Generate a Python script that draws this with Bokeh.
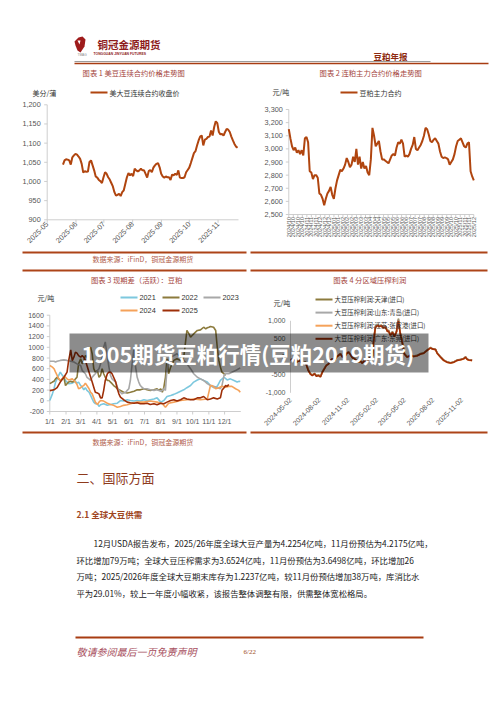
import numpy as np
import pandas as pd
from bokeh.plotting import figure
from bokeh.models import Range1d
from bokeh.embed import file_html
from bokeh.resources import INLINE
from bokeh.core.properties import value

# ---------------- DATA ----------------
# Chart 1: CBOT soybean continuous close (US cents / bushel)
c1_start, c1_end = "2025-05-18", "2025-11-22"
us_soy_close = [1044,1055,1058,1057,1055,1044,1063,1068,1072,1070,1065,1059,1046,1023,1027,1025,1026,1051,1055,1042,
                1029,1013,1010,1004,1001,996,1011,1024,1020,1011,1005,996,987,972,963,965,968,962,972,977,
                994,1011,1022,1016,1020,1014,1033,1029,1026,1029,1033,1029,1029,1020,1010,1027,1030,1024,1036,1042,
                1046,1048,1037,1020,1013,1010,1013,1011,1011,1004,1018,1016,1020,1017,1029,1010,1009,1009,1011,1024,
                1030,1036,1048,1061,1074,1079,1094,1107,1117,1120,1094,1109,1111,1116,1117,1133,1120,1142,1157,1152,
                1129,1123,1124,1120,1129,1137,1135,1129,1117,1107,1098,1091,1088]
c1_month_ticks = ["2025-05-01","2025-06-01","2025-07-01","2025-08-01","2025-09-01","2025-10-01","2025-11-01"]
c1_month_labels = ["2025-05","2025-06","2025-07","2025-08","2025-09","2025-10","2025-11"]
c1_yticks = [900, 950, 1000, 1050, 1100, 1150, 1200]
c1_ylabels = ["900", "950", "1,000", "1,050", "1,100", "1,150", "1,200"]

# Chart 2: DCE soybean meal main contract (yuan / ton)
meal_main = [3150,3080,3020,2990,3010,2970,2990,2960,2990,2950,3080,3090,3050,2830,2820,2770,2800,2800,2780,2660,
             2650,2620,2570,2620,2660,2680,2710,2650,2620,2700,2760,2800,2840,2830,2850,2880,2930,2900,2860,2880,
             2940,2900,3000,2880,2940,2850,2900,2850,2870,2820,2800,2920,3160,3100,3020,3040,3060,2980,2920,2920,
             2910,2900,2890,2920,2950,2960,2950,3010,3050,3040,3070,3040,2940,2950,2940,2960,3000,3030,3090,3000,
             2990,3010,3030,3060,3100,3160,3150,3110,3060,3050,3070,3080,3060,3040,2980,2940,2930,2935,2930,2920,
             2880,2900,2920,2960,3020,3060,3070,3080,3050,3020,3010,3040,3050,2830,2790,2760]
c2_xlabels = ["2024/10","2024/10","2024/10","2024/10","2024/11","2024/11","2024/11","2024/12","2024/12","2024/12",
              "2025/01","2025/01","2025/02","2025/02","2025/02","2025/03","2025/03","2025/03","2025/04","2025/04",
              "2025/04","2025/05","2025/05","2025/05","2025/06","2025/06","2025/06","2025/07","2025/07","2025/07",
              "2025/08","2025/08","2025/08","2025/09","2025/09","2025/09","2025/10","2025/10","2025/11","2025/11",
              "2025/11","2025/12"]
c2_yticks = [2500, 2600, 2700, 2800, 2900, 3000, 3100, 3200, 3300]
c2_ylabels = ["2,500", "2,600", "2,700", "2,800", "2,900", "3,000", "3,100", "3,200", "3,300"]

# Chart 3: soybean meal basis by year (x = day of year)
years = ["2021", "2022", "2023", "2024", "2025"]
d21 = [0,5,8,11,14,17,20,24,27,30,33,36,43,49,52,55,59,62,65,68,71,75,78,81,84,87,91,94,97,103,110,116,122,129,135,141,
       148,154,161,167,173,180,186,192,199,205,212,218,224,231,237,243,250,256,262,269,275,282,288,294,301,307,313,320,
       326,333,339,345,352,358,362,364]
v21 = [5,130,225,350,410,475,535,475,440,380,350,320,330,365,330,350,285,255,205,245,195,160,100,35,-25,-55,-55,-105,
       -75,-55,-85,-70,-55,-45,5,-5,20,5,-5,5,-5,20,5,20,35,55,-25,5,80,100,120,145,180,205,245,285,350,390,410,380,
       350,285,245,270,380,440,390,410,380,350,365,360]
d22 = [0,5,8,11,14,17,20,24,27,30,33,36,40,43,46,49,52,55,59,62,65,68,71,75,78,81,84,87,91,94,97,100,103,106,110,113,
       116,119,122,126,129,135,141,148,154,161,167,173,180,186,192,199,205,208,212,215,218,221,224,227,231,234,237,243,
       250,256,262,266,269,272,275,282,288,294,298,301,304,307,313,317,320,323,326,329,333,336]
v22 = [320,350,365,410,440,410,380,410,440,285,320,350,365,350,365,410,440,690,785,690,755,845,815,970,1000,880,600,535,
       565,440,475,600,505,440,380,380,350,320,285,255,225,195,160,145,160,180,205,205,225,205,195,205,225,195,225,160,
       255,440,785,505,630,690,755,785,755,815,1315,1250,1190,1220,1250,1315,1325,1375,1345,1365,1375,1390,1375,1315,
       1000,755,630,535,505,475]
d23 = [0,8,11,14,20,27,33,40,46,52,59,62,65,68,71,75,78,81,84,87,91,94,97,100,103,106,110,113,116,119,122,126,129,132,
       135,138,141,145,148,151,154,157,161,164,167,170,173,176,180,186,192,199,205,212,215,218,221,224,227,231,237,243,
       250,256,262,269,275,282,288,294,301,307,313,320,326,329,333,336,342,348,355,361,364]
v23 = [740,740,725,740,755,765,755,740,725,690,660,565,535,505,440,410,380,440,475,505,565,600,690,815,1000,1100,815,630,
       475,410,380,350,255,195,160,130,145,160,195,225,380,660,1000,630,440,350,285,255,225,225,205,195,205,180,195,225,
       195,600,755,815,845,880,815,755,690,600,505,440,410,380,320,285,270,245,225,285,475,505,505,535,565,600,615]
d24 = [0,5,8,11,14,17,20,24,27,30,33,36,43,46,49,52,55,59,62,65,68,71,75,78,81,84,87,91,94,97,103,110,116,122,129,135,
       141,148,154,167,180,192,205,215,221,227,237,250,262,275,288,301,307,310,317,323,329,336,342,348,355,361,364]
v24 = [660,630,600,535,475,410,380,410,455,440,410,390,410,380,350,305,225,245,270,285,330,285,225,160,130,55,-25,-70,
       -25,5,-5,-45,-70,-85,-120,-105,-85,-75,-55,-25,-25,-5,-25,-55,-120,-45,-25,5,20,35,20,35,285,285,225,245,270,
       255,270,270,225,195,160]
d25 = [0,8,14,20,27,33,36,40,43,46,49,52,55,59,62,65,68,71,75,78,81,84,87,91,94,97,100,103,106,110,113,116,119,122,126,
       129,132,135,141,148,154,161,167,173,180,186,192,199,205,212,218,224,231,237,243,250,256,262,269,275,282,288,294,
       301,307,313,320,326,329,333,336,339,342]
v25 = [190,205,245,350,440,535,750,950,750,815,910,890,845,815,845,815,755,660,535,440,350,255,160,145,130,55,55,195,380,
       505,535,535,505,440,350,225,130,70,20,-25,-35,-45,-35,-55,-55,-45,-70,-55,-75,-45,-55,-25,5,20,-5,20,55,35,20,20,
       55,55,80,20,35,55,35,55,195,245,285,270,305]
c3_month_days = [0, 31, 59, 90, 120, 151, 181, 212, 243, 273, 304, 334]
c3_month_labels = ["1/1","2/1","3/1","4/1","5/1","6/1","7/1","8/1","9/1","10/1","11/1","12/1"]
c3_yticks = [-200, 0, 200, 400, 600, 800, 1000, 1200, 1400, 1600]

# Chart 4: crushing margin by region (yuan / ton)
c4_dates = ["2024-05-02","2024-05-12","2024-05-21","2024-05-31","2024-06-09","2024-06-19","2024-06-28","2024-07-05",
            "2024-07-11","2024-07-18","2024-07-24","2024-07-31","2024-08-06","2024-08-12","2024-08-19","2024-08-25",
            "2024-09-01","2024-09-07","2024-09-13","2024-09-20","2024-09-26","2024-10-03","2024-10-09","2024-10-15",
            "2024-10-22","2024-10-28","2024-11-04","2024-11-10","2024-11-16","2024-11-23","2024-11-29","2024-12-06",
            "2024-12-12","2024-12-18","2024-12-25","2024-12-31","2025-01-07","2025-01-13","2025-01-20","2025-01-23",
            "2025-01-29","2025-02-05","2025-02-11","2025-02-17","2025-02-24","2025-03-02","2025-03-09","2025-03-12",
            "2025-03-18","2025-03-25","2025-03-31","2025-04-07","2025-04-10","2025-04-13","2025-04-16","2025-04-19",
            "2025-04-26","2025-05-02","2025-05-11","2025-05-22","2025-05-31","2025-06-12","2025-06-23","2025-07-03",
            "2025-07-14","2025-07-25","2025-07-30","2025-08-10","2025-08-15","2025-08-26","2025-09-05","2025-09-16",
            "2025-09-27","2025-10-07","2025-10-18","2025-10-29","2025-11-08","2025-11-14","2025-11-19","2025-11-24",
            "2025-12-05"]
margin_tianjin = [-80,-40,-130,-90,-180,-140,-360,-470,-500,-460,-520,-500,-540,-420,-310,-230,-190,-90,-50,-90,0,50,90,10,
                  0,90,140,70,-10,-50,-90,-140,-110,-170,-90,-140,-50,-10,30,420,850,900,860,880,820,850,720,740,620,700,
                  580,720,930,1060,830,660,380,90,0,50,20,40,90,110,190,260,230,210,110,0,-90,-140,-165,-140,-90,-70,-45,
                  0,-60,-80,-90]
margin_qingdao = [-90,-45,-140,-95,-190,-145,-370,-475,-510,-465,-530,-510,-550,-425,-320,-235,-195,-95,-55,-95,-5,45,85,5,
                  -5,85,135,65,-15,-55,-95,-145,-115,-175,-95,-145,-55,-15,25,410,835,885,850,870,810,840,710,730,610,690,
                  570,710,915,1030,815,650,370,85,-5,45,15,35,85,105,185,255,225,205,105,-5,-95,-145,-170,-145,-95,-75,
                  -50,-5,-65,-85,-95]
margin_zhangjiagang = [-95,-55,-145,-105,-195,-155,-375,-485,-515,-475,-535,-515,-555,-435,-325,-245,-205,-105,-65,-105,-15,
                       35,75,-5,-15,75,125,55,-25,-65,-105,-155,-125,-185,-105,-155,-65,-25,15,395,815,860,835,855,795,825,
                       695,715,595,675,555,695,890,990,795,635,355,75,-15,35,5,25,75,95,175,245,215,195,95,-15,-105,-155,
                       -180,-155,-105,-85,-60,-15,-75,-95,-105]
margin_dongguan = [-100,-50,-150,-100,-200,-150,-380,-480,-520,-470,-540,-520,-560,-430,-330,-240,-200,-100,-60,-100,-10,40,
                   80,0,-10,80,130,60,-20,-60,-100,-150,-120,-180,-100,-150,-60,-20,20,400,820,870,840,860,800,830,700,720,
                   600,680,560,700,900,1000,800,640,360,80,-10,40,10,30,80,100,180,250,220,200,100,-10,-100,-150,-175,
                   -150,-100,-80,-55,-10,-70,-90,-100]
c4_names = ["大豆压榨利润:天津(进口)", "大豆压榨利润:山东:青岛(进口)", "大豆压榨利润:江苏:张家港(进口)", "大豆压榨利润:广东:东莞(进口)"]
c4_xticks = ["2024-05-02","2024-08-02","2024-11-02","2025-02-02","2025-05-02","2025-08-02","2025-11-02"]
c4_yticks = [-1000, -500, 0, 500, 1000]
c4_ylabels = ["-1,000", "-500", "0", "500", "1,000"]

paragraph = ["12月USDA报告发布，2025/26年度全球大豆产量为4.2254亿吨，11月份预估为4.2175亿吨，",
             "环比增加79万吨；全球大豆压榨需求为3.6524亿吨，11月份预估为3.6498亿吨，环比增加26",
             "万吨；2025/2026年度全球大豆期末库存为1.2237亿吨，较11月份预估增加38万吨，库消比水",
             "平为29.01%，较上一年度小幅收紧，该报告整体调整有限，供需整体宽松格局。"]

# ---------------- STYLE ----------------
BROWN = "#B0450F"
RULE = "#AD4418"
TITLE_C = "#A5463D"
AXIS_C = "#C8C8C8"
LBL_C = "#555555"
SRC_C = "#B0604C"
C21, C22, C23, C24, C25 = "#7DC8DE", "#8C7B3D", "#A8A8A8", "#F5A25A", "#9E2F08"
CJK = value("Noto Sans CJK SC")
NUM = value("Liberation Sans")

W, H = 492, 698
p = figure(width=W, height=H, output_backend="svg", toolbar_location=None,
           x_range=Range1d(0, W), y_range=Range1d(H, 0),
           x_axis_location=None, y_axis_location=None, min_border=0)
p.xgrid.grid_line_color = None
p.ygrid.grid_line_color = None
p.outline_line_color = None
p.background_fill_color = "white"
p.border_fill_color = "white"


def ms(s):
    return pd.Timestamp(s).value / 1e6


def T(g, x, y, s, size, color, font=CJK, align="left", baseline="middle", style="normal", angle=0.0, alpha=1.0):
    if not isinstance(s, list):
        x, y, s = [x], [y], [s]
    g.text(x=x, y=y, text=s, text_font=font, text_font_size=f"{size}px", text_color=color,
           text_align=align, text_baseline=baseline, text_font_style=style, angle=angle, text_alpha=alpha)


def H_line(x0, x1, y, color, width):
    p.segment(x0=[x0], y0=[y], x1=[x1], y1=[y], line_color=color, line_width=width)


class Chart:
    def __init__(self, xs, ys, xt, yt):
        self.xs, self.ys, self.xt, self.yt = xs, ys, xt, yt
        self.g = p.subplot(x_source=Range1d(*xs), y_source=Range1d(*ys),
                           x_target=Range1d(*xt), y_target=Range1d(*yt))

    def dx(self, px):
        return px * (self.xs[1] - self.xs[0]) / abs(self.xt[1] - self.xt[0])

    def dy(self, px):
        return px * (self.ys[1] - self.ys[0]) / abs(self.yt[1] - self.yt[0])

    def y_axis(self, ticks, labels, gap, size):
        g, x0 = self.g, self.xs[0]
        n = len(ticks)
        g.segment(x0=[x0], y0=[self.ys[0]], x1=[x0], y1=[self.ys[1]], line_color=AXIS_C, line_width=0.9)
        g.segment(x0=[x0] * n, y0=ticks, x1=[x0 - self.dx(3)] * n, y1=ticks, line_color=AXIS_C, line_width=0.9)
        T(g, [x0 - self.dx(gap)] * n, ticks, labels, size, LBL_C, font=NUM, align="right")

    def x_axis(self, ticks, line=True):
        g, y0 = self.g, self.ys[0]
        n = len(ticks)
        if line:
            g.segment(x0=[self.xs[0]], y0=[y0], x1=[self.xs[1]], y1=[y0], line_color=AXIS_C, line_width=0.9)
        g.segment(x0=ticks, y0=[y0] * n, x1=ticks, y1=[y0 - self.dy(3)] * n, line_color=AXIS_C, line_width=0.9)


# ---------------- HEADER ----------------
p.patch(x=[74, 78, 82, 85, 84, 80, 77, 75], y=[41, 37, 36, 39, 46, 52, 50, 45], fill_color="#9E1B1B", line_color=None)
p.patch(x=[77, 80, 79], y=[40, 40, 44], fill_color="white", line_color=None)
T(p, 97, 44, "铜冠金源期货", 10.5, "#8E1C1C", style="bold")
T(p, 77, 54, "TMAG", 3.2, "#888888", font=NUM)
T(p, 93, 53.5, "TONGGUAN JINYUAN FUTURES", 3.4, "#8E1C1C", font=NUM, style="bold")
T(p, 373, 55.5, "豆粕年报", 8.5, "#8E2A10", style="bold")
H_line(74, 430, 61, "#9C9C9C", 1.2)
H_line(74, 488, 63, "#A83C12", 1.6)

# ---------------- CHART 1 ----------------
T(p, 134, 72.5, "图表 1  美豆连续合约价格走势图", 7.3, TITLE_C, align="center")
T(p, 32, 92, "美分/蒲", 7, "#333333")
p.segment(x0=[90], y0=[92], x1=[107], y1=[92], line_color=BROWN, line_width=2)
T(p, 109, 92, "美大豆连续合约收盘价", 7, "#333333")
c1 = Chart((ms("2025-05-01"), ms("2025-11-23")), (900, 1200), (46.7, 238.0), (219.3, 104.3))
c1.y_axis(c1_yticks, c1_ylabels, 6.5, 7.3)
c1_tick_ms = [ms(d) for d in c1_month_ticks]
c1.x_axis(c1_tick_ms)
T(c1.g, c1_tick_ms, [900 - c1.dy(3)] * len(c1_tick_ms), c1_month_labels, 7.3, LBL_C, font=NUM,
  align="right", angle=np.pi / 4)
x1 = np.linspace(ms(c1_start), ms(c1_end), len(us_soy_close))
c1.g.line(x1, us_soy_close, line_color=BROWN, line_width=2)
H_line(22, 246, 252, RULE, 1.8)
T(p, 92, 258.5, "数据来源：iFinD，铜冠金源期货", 7, SRC_C)

# ---------------- CHART 2 ----------------
T(p, 371, 72.5, "图表 2  连粕主力合约价格走势图", 7.3, TITLE_C, align="center")
T(p, 272, 91.5, "元/吨", 7, "#333333")
p.segment(x0=[340], y0=[92], x1=[357], y1=[92], line_color=BROWN, line_width=2)
T(p, 359, 92, "豆粕主力合约", 7, "#333333")
n2 = len(meal_main)
c2 = Chart((0, n2 - 1), (2500, 3300), (288.3, 473.3), (214.0, 109.0))
c2.y_axis(c2_yticks, c2_ylabels, 6, 7.3)
c2_tick_pos = list(np.linspace(0, n2 - 1, len(c2_xlabels)))
c2.x_axis(c2_tick_pos)
T(c2.g, c2_tick_pos, [2500 - c2.dy(2.5)] * len(c2_tick_pos), c2_xlabels, 5.6, LBL_C, font=NUM,
  align="right", angle=np.pi / 2)
c2.g.line(list(range(n2)), meal_main, line_color=BROWN, line_width=2)
H_line(250, 487, 252, RULE, 1.8)

# ---------------- CHART 3 ----------------
H_line(22, 246, 270, RULE, 1.8)
T(p, 137, 279, "图表 3  现期差（活跃）：豆粕", 7.3, TITLE_C, align="center")
T(p, 37, 297, "元/吨", 7, "#333333")
leg3 = [(120, 297, C21), (162, 297, C22), (203, 297, C23), (120, 310, C24), (162, 310, C25)]
for (lx, ly, lc), yr in zip(leg3, years):
    p.segment(x0=[lx], y0=[ly], x1=[lx + 17], y1=[ly], line_color=lc, line_width=2)
    T(p, lx + 19, ly, yr, 7.3, "#333333", font=NUM)
c3 = Chart((0, 365), (-200, 1600), (49.3, 240.3), (411.0, 314.7))
c3.y_axis(c3_yticks, [str(v) for v in c3_yticks], 6, 7)
c3.x_axis(c3_month_days)
T(c3.g, c3_month_days, [-200 - c3.dy(10)] * len(c3_month_days), c3_month_labels, 7, LBL_C, font=NUM, align="center")
for dd, vv, cc in [(d21, v21, C21), (d22, v22, C22), (d23, v23, C23), (d24, v24, C24), (d25, v25, C25)]:
    c3.g.line(dd, vv, line_color=cc, line_width=1.6)
H_line(22, 246, 432, RULE, 1.8)
T(p, 92, 441.5, "数据来源：iFinD，铜冠金源期货", 7, SRC_C)

# ---------------- CHART 4 ----------------
H_line(250, 487, 270, RULE, 1.8)
T(p, 370, 279, "图表 4  分区域压榨利润", 7.3, TITLE_C, align="center")
T(p, 273, 302, "元/吨", 7, "#333333")
c4 = Chart((ms("2024-05-02"), ms("2025-12-05")), (-1000, 1000), (290.0, 471.6), (392.3, 320.3))
c4.g.segment(x0=[c4.xs[0]], y0=[-1000], x1=[c4.xs[0]], y1=[1000], line_color=AXIS_C, line_width=0.9)
T(c4.g, [c4.xs[0] - c4.dx(5)] * len(c4_yticks), c4_yticks, c4_ylabels, 7, LBL_C, font=NUM, align="right")
c4_tick_ms = [ms(d) for d in c4_xticks]
T(c4.g, c4_tick_ms, [-1000 - c4.dy(6)] * len(c4_tick_ms), c4_xticks, 7, LBL_C, font=NUM,
  align="right", angle=np.pi / 4)
x4 = [ms(d) for d in c4_dates]
c4_cols = [C22, C23, C24, C25]
for vals, col in zip([margin_tianjin, margin_qingdao, margin_zhangjiagang, margin_dongguan], c4_cols):
    c4.g.line(x4, vals, line_color=col, line_width=1.6)
for i, (nm, col) in enumerate(zip(c4_names, c4_cols)):
    ly = 299 + i * 13.1
    p.segment(x0=[315], y0=[ly], x1=[332], y1=[ly], line_color=col, line_width=2)
    T(p, 334, ly, nm, 6.4, "#333333")
H_line(250, 487, 432, RULE, 1.8)

# ---------------- BANNER ----------------
p.quad(left=[69], right=[428], top=[333], bottom=[372], fill_color="black", fill_alpha=0.45, line_color=None)
T(p, 81, 353, "1905期货豆粕行情(豆粕2019期货)", 21.5, "white", style="bold")

# ---------------- TEXT ----------------
T(p, 76, 477, "二、国际方面", 13, "#8E3A1C")
T(p, 76, 513, "2.1 全球大豆供需", 8.5, "#A0461E", style="bold")
para_y = [542.5, 559, 575.5, 592]
para_x = [93, 76, 76, 76]
T(p, para_x, para_y, paragraph, 8.35, "#222222")

# ---------------- FOOTER ----------------
H_line(75, 423, 637, "#A83C12", 2)
T(p, 76, 651, "敬请参阅最后一页免责声明", 10, "#A8505E", style="italic")
T(p, 243, 651, "6/22", 7, "#A0501E", font=value("Liberation Serif"))

open("out.html", "w").write(file_html(p, INLINE))
